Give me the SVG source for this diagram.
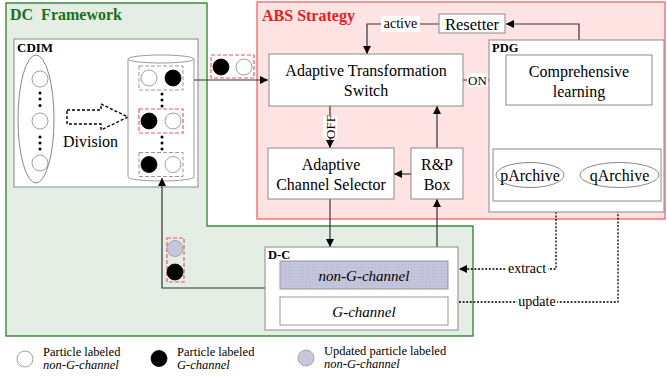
<svg xmlns="http://www.w3.org/2000/svg" width="667" height="379" viewBox="0 0 667 379" font-family="'Liberation Serif', 'Times New Roman', 'DejaVu Serif', serif">
<style>
text{font-family:'Liberation Serif','Times New Roman','DejaVu Serif',serif}
.t{fill:#000}
.b{font-weight:bold}
.i{font-style:italic}
.box{fill:#fff;stroke:#8a8a8a;stroke-width:1}
.conn{fill:none;stroke:#333;stroke-width:1.2}
.dot{fill:none;stroke:#000;stroke-width:1.3;stroke-dasharray:2,1.6}
.pw{fill:#fff;stroke:#888;stroke-width:0.8}
.pb{fill:#000;stroke:#000;stroke-width:0.8}
.pl{fill:#c6c6dd;stroke:#999;stroke-width:0.8}
.gd{fill:none;stroke:#999;stroke-width:1;stroke-dasharray:4,2}
.rd{fill:none;stroke:#f05a5a;stroke-width:1.2;stroke-dasharray:4,2}
.sd{fill:#000}
.lbg{fill:#fff}
</style>
<defs>
<marker id="ah" viewBox="0 0 10 10" refX="10" refY="5" markerWidth="8" markerHeight="8" markerUnits="userSpaceOnUse" orient="auto">
<path d="M0,0 L10,5 L0,10 z" fill="#000"/>
</marker>
<pattern id="dots" width="3" height="3" patternUnits="userSpaceOnUse">
<rect width="3" height="3" fill="#c4c4dc"/>
<rect width="1" height="1" fill="#b4b4cc"/>
</pattern>
</defs>

<g id="dc-framework">
<path d="M6,3 H207 V226 H473 V336 H6 Z" fill="#e4eee4" stroke="#3d8b3d" stroke-width="1.4"/>
<text class="b" x="10" y="20" font-size="16" style="fill:#1c6e1c" xml:space="preserve">DC  Framework</text>
</g>

<g id="abs-strategy">
<rect x="257" y="2" width="408" height="217" fill="#ffe2e2" stroke="#f07070" stroke-width="1.4"/>
<text class="b" x="262" y="21" font-size="16" style="fill:#e42020">ABS Strategy</text>
</g>

<g id="cdim">
<rect class="box" x="14" y="39" width="184" height="148"/>
<text class="t b" x="17" y="52" font-size="13">CDIM</text>
<ellipse cx="36" cy="119" rx="18" ry="64" fill="#fff" stroke="#888"/>
<circle class="pw" cx="40" cy="79" r="8"/>
<circle class="pw" cx="40" cy="121" r="8"/>
<circle class="pw" cx="40" cy="163" r="8"/>
<circle class="sd" cx="40" cy="93" r="1.5"/>
<circle class="sd" cx="40" cy="99" r="1.5"/>
<circle class="sd" cx="40" cy="105.5" r="1.5"/>
<circle class="sd" cx="40" cy="137" r="1.5"/>
<circle class="sd" cx="40" cy="143" r="1.5"/>
<circle class="sd" cx="40" cy="149" r="1.5"/>
<path d="M67,110 H101 V104 L128,117 L101,130 V124 H67 Z" fill="#fff" stroke="#000" stroke-width="1.4" stroke-dasharray="3,2"/>
<text class="t" x="63" y="147" font-size="16">Division</text>
<path d="M128,59 V177 A33,4 0 0 0 194,177 V59" fill="#fff" stroke="#999" stroke-width="1"/>
<ellipse cx="161" cy="59" rx="33" ry="4" fill="#fff" stroke="#999"/>
<rect class="gd" x="139" y="66" width="44" height="24"/>
<circle class="pw" cx="149" cy="78" r="8"/>
<circle class="pb" cx="173" cy="78" r="8"/>
<circle class="sd" cx="162" cy="94" r="1.5"/>
<circle class="sd" cx="162" cy="100" r="1.5"/>
<circle class="sd" cx="162" cy="106" r="1.5"/>
<rect class="rd" x="139" y="109" width="44" height="24"/>
<circle class="pb" cx="149" cy="121" r="8"/>
<circle class="pw" cx="173" cy="121" r="8"/>
<circle class="sd" cx="162" cy="137" r="1.5"/>
<circle class="sd" cx="162" cy="143" r="1.5"/>
<circle class="sd" cx="162" cy="149" r="1.5"/>
<rect class="gd" x="139" y="152.5" width="44" height="24"/>
<circle class="pb" cx="149" cy="164.5" r="8"/>
<circle class="pw" cx="173" cy="164.5" r="8"/>
</g>

<g id="connectors">
<path class="conn" d="M194,80 H268" marker-end="url(#ah)"/>
<path class="conn" d="M439,24 H367 V54" marker-end="url(#ah)"/>
<path class="conn" d="M579,55 V24 H506" marker-end="url(#ah)"/>
<path class="conn" d="M463,80 H506" marker-end="url(#ah)"/>
<path class="conn" d="M330,106 V148" marker-end="url(#ah)"/>
<path class="conn" d="M437,148 V106" marker-end="url(#ah)"/>
<path class="conn" d="M411,174 H394" marker-end="url(#ah)"/>
<path class="conn" d="M330,199 V247" marker-end="url(#ah)"/>
<path class="conn" d="M437,247 V199" marker-end="url(#ah)"/>
<path class="conn" d="M529,149 V106" marker-end="url(#ah)"/>
<path class="conn" d="M613,105 V152" marker-end="url(#ah)"/>
<path class="conn" d="M265,288 H162 V178" marker-end="url(#ah)"/>
<path class="dot" d="M556,201 V269 H459" marker-end="url(#ah)"/>
<path class="dot" d="M459,302 H618 V201" marker-end="url(#ah)"/>
<rect class="lbg" x="381" y="16" width="39" height="16"/>
<text class="t" x="400.5" y="28" font-size="14" text-anchor="middle">active</text>
<rect class="lbg" x="467" y="73" width="21" height="14"/>
<text class="t" x="477.5" y="84.5" font-size="13" text-anchor="middle">ON</text>
<g transform="translate(330,127) rotate(-90)">
<rect class="lbg" x="-11" y="-7" width="22" height="14"/>
<text class="t" x="0" y="4.5" font-size="13" text-anchor="middle">OFF</text>
</g>
<g transform="translate(529,130) rotate(-90)">
<rect class="lbg" x="-13" y="-7" width="26" height="14"/>
<text class="t" x="0" y="4.5" font-size="13" text-anchor="middle">load</text>
</g>
<g transform="translate(613,131) rotate(-90)">
<rect class="lbg" x="-18" y="-7" width="36" height="14"/>
<text class="t" x="0" y="4.5" font-size="13" text-anchor="middle">update</text>
</g>
<rect x="506" y="261" width="42" height="16" fill="#fff"/>
<text class="t" x="527" y="273" font-size="14" text-anchor="middle">extract</text>
<rect x="517" y="294" width="40" height="16" fill="#fff"/>
<text class="t" x="537" y="306" font-size="14" text-anchor="middle">update</text>
</g>

<g id="moving-pair-1">
<rect class="rd" x="211" y="55" width="43" height="23"/>
<circle class="pb" cx="221" cy="67" r="8"/>
<circle class="pw" cx="244" cy="67" r="8"/>
</g>

<g id="moving-pair-2">
<rect class="rd" x="167" y="238" width="17" height="44"/>
<circle class="pl" cx="175" cy="248.5" r="8"/>
<circle class="pb" cx="175" cy="272" r="8"/>
</g>

<g id="switch">
<rect class="box" x="269" y="54" width="194" height="52"/>
<text class="t" x="366" y="76" font-size="16" text-anchor="middle">Adaptive Transformation</text>
<text class="t" x="366" y="96" font-size="16" text-anchor="middle">Switch</text>
</g>

<g id="resetter">
<rect class="box" x="439" y="14" width="66" height="19"/>
<text class="t" x="472" y="30" font-size="16.5" text-anchor="middle">Resetter</text>
</g>

<g id="pdg">
<rect class="box" x="489" y="40" width="175" height="172"/>
<text class="t b" x="492" y="52" font-size="12.5">PDG</text>
</g>

<g id="comprehensive-learning">
<rect class="box" x="506" y="55" width="146" height="50"/>
<text class="t" x="579" y="77" font-size="16" text-anchor="middle">Comprehensive</text>
<text class="t" x="579" y="97" font-size="16" text-anchor="middle">learning</text>
</g>

<g id="archives">
<rect class="box" x="493" y="149" width="168" height="52"/>
<ellipse cx="530" cy="175" rx="34" ry="12.5" fill="#fff" stroke="#888"/>
<text class="t" x="530" y="180.5" font-size="16" text-anchor="middle">pArchive</text>
<ellipse cx="619.5" cy="175" rx="39.5" ry="12.5" fill="#fff" stroke="#888"/>
<text class="t" x="619.5" y="180.5" font-size="16" text-anchor="middle">qArchive</text>
</g>

<g id="channel-selector">
<rect class="box" x="268" y="148" width="126" height="51"/>
<text class="t" x="331" y="170" font-size="16" text-anchor="middle">Adaptive</text>
<text class="t" x="331" y="190" font-size="16" text-anchor="middle">Channel Selector</text>
</g>

<g id="rp-box">
<rect class="box" x="411" y="148" width="52" height="51"/>
<text class="t" x="437" y="170" font-size="16" text-anchor="middle">R&amp;P</text>
<text class="t" x="437" y="190" font-size="16" text-anchor="middle">Box</text>
</g>

<g id="d-c">
<rect class="box" x="265" y="247" width="193" height="83"/>
<text class="t b" x="268" y="259" font-size="12.5">D-C</text>
<rect x="280" y="261" width="168" height="28" fill="url(#dots)" stroke="#999"/>
<text class="t i" x="364" y="280.5" font-size="15" text-anchor="middle">non-G-channel</text>
<rect x="280" y="297" width="168" height="28" fill="#fff" stroke="#999"/>
<text class="t i" x="364" y="316.5" font-size="15" text-anchor="middle">G-channel</text>
</g>

<g id="legend">
<circle class="pw" cx="25" cy="359" r="8"/>
<text class="t" x="43" y="356" font-size="12.5">Particle labeled</text>
<text class="t i" x="43" y="369" font-size="12.5">non-G-channel</text>
<circle class="pb" cx="159" cy="358.5" r="8"/>
<text class="t" x="177" y="356" font-size="12.5">Particle labeled</text>
<text class="t i" x="177" y="369" font-size="12.5">G-channel</text>
<circle class="pl" cx="306" cy="358" r="8"/>
<text class="t" x="324" y="355" font-size="12.5">Updated particle labeled</text>
<text class="t i" x="324" y="368" font-size="12.5">non-G-channel</text>
</g>
</svg>
